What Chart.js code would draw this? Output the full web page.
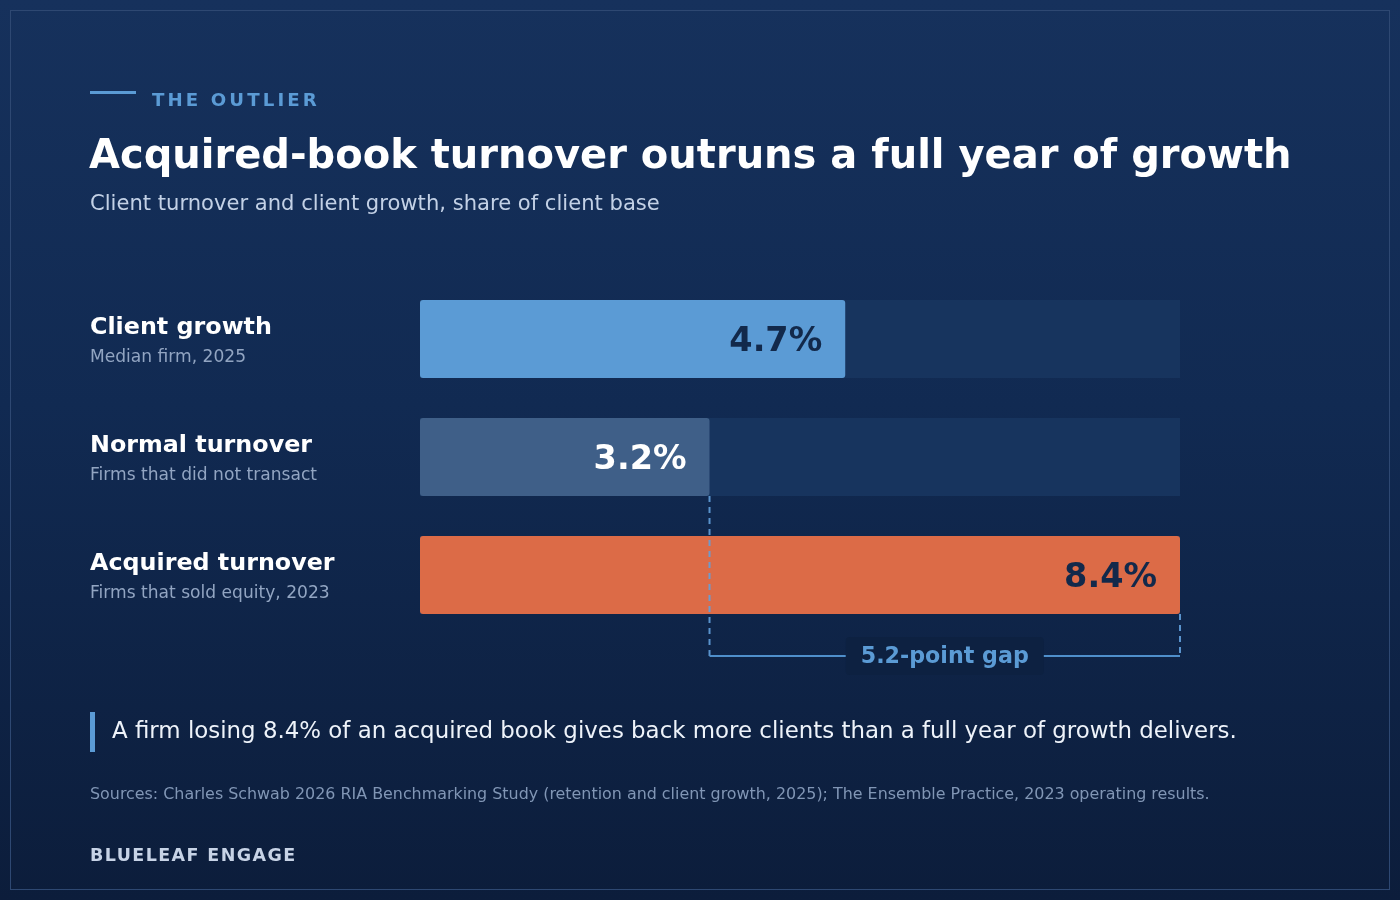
<!DOCTYPE html>
<html>
<head>
<meta charset="utf-8">
<script src="https://cdn.jsdelivr.net/npm/chart.js@4/dist/chart.umd.min.js"></script>
<style>
html,body{margin:0;padding:0;width:1400px;height:900px;overflow:hidden;font-family:"DejaVu Sans",sans-serif;}
body{background:linear-gradient(180deg,#16315c 0%,#112a52 45%,#0c1d3b 100%);position:relative;}
#frame{position:absolute;left:10px;top:10px;width:1378px;height:878px;border:1px solid #2e4872;}
#wrap{position:absolute;left:0;top:0;width:1400px;height:900px;}
.t{position:absolute;white-space:nowrap;}
#kline{position:absolute;left:90px;top:91px;width:46px;height:3px;background:#5b9bd5;}
#kicker{left:152px;top:89px;font-size:18.2px;font-weight:bold;letter-spacing:3.1px;color:#5b9bd5;}
#title{left:89px;top:131px;font-size:40px;font-weight:bold;color:#ffffff;}
#sub{left:90px;top:190px;font-size:21.1px;color:#c3d1e6;}
#qbar{position:absolute;left:90px;top:712px;width:5px;height:40px;background:#5b9bd5;}
#quote{left:112px;top:717px;font-size:22.9px;color:#eef3fa;}
#src{left:90px;top:784px;font-size:15.9px;color:#8196b5;}
#brand{left:90px;top:845px;font-size:17.5px;font-weight:bold;letter-spacing:1.4px;color:#c7d3e6;}
</style>
</head>
<body>
<div id="frame"></div>
<div id="wrap"><canvas id="c" width="1400" height="900"></canvas></div>
<div id="kline"></div>
<div class="t" id="kicker">THE OUTLIER</div>
<div class="t" id="title">Acquired-book turnover outruns a full year of growth</div>
<div class="t" id="sub">Client turnover and client growth, share of client base</div>
<div id="qbar"></div>
<div class="t" id="quote">A firm losing 8.4% of an acquired book gives back more clients than a full year of growth delivers.</div>
<div class="t" id="src">Sources: Charles Schwab 2026 RIA Benchmarking Study (retention and client growth, 2025); The Ensemble Practice, 2023 operating results.</div>
<div class="t" id="brand">BLUELEAF ENGAGE</div>
<script>
const categories = ["Client growth", "Normal turnover", "Acquired turnover"];
const subLabels = ["Median firm, 2025", "Firms that did not transact", "Firms that sold equity, 2023"];
const values = [4.7, 3.2, 8.4];
const valueLabels = ["4.7%", "3.2%", "8.4%"];
const axisMax = 8.4;
const trackValues = categories.map(() => axisMax);
const gapLabel = "5.2-point gap";

const barColors = ["#5b9bd5", "#3f5f88", "#dc6b47"];
const labelColors = ["#12294b", "#ffffff", "#12294b"];

const F = '"DejaVu Sans", sans-serif';

const annot = {
  id: 'annot',
  afterDatasetsDraw(chart) {
    const ctx = chart.ctx;
    const x = chart.scales.x, y = chart.scales.y;
    const meta = chart.getDatasetMeta(1);
    ctx.save();
    categories.forEach((c, i) => {
      const cy = y.getPixelForValue(i);
      ctx.textAlign = 'left';
      ctx.textBaseline = 'alphabetic';
      ctx.fillStyle = '#ffffff';
      ctx.font = 'bold 23.8px ' + F;
      ctx.fillText(c, 90, cy - 5);
      ctx.fillStyle = '#92a5c2';
      ctx.font = '17.1px ' + F;
      ctx.fillText(subLabels[i], 90, cy + 23);
      const bx = x.getPixelForValue(values[i]);
      ctx.textAlign = 'right';
      ctx.fillStyle = labelColors[i];
      ctx.font = 'bold 33.5px ' + F;
      ctx.fillText(valueLabels[i], bx - 23, cy + 12);
    });
    // gap bracket
    const x1 = x.getPixelForValue(values[1]);
    const x2 = x.getPixelForValue(values[2]);
    const b1 = meta.data[1], b2 = meta.data[2];
    const bottom1 = b1.y + b1.height / 2;
    const bottom2 = b2.y + b2.height / 2;
    const by = bottom2 + 42;
    ctx.strokeStyle = 'rgba(98,160,220,0.9)';
    ctx.lineWidth = 2;
    ctx.setLineDash([6, 5]);
    ctx.beginPath();
    ctx.moveTo(x1, bottom1); ctx.lineTo(x1, by);
    ctx.moveTo(x2, bottom2); ctx.lineTo(x2, by);
    ctx.stroke();
    ctx.setLineDash([]);
    ctx.strokeStyle = '#4f8fcb';
    ctx.lineWidth = 2;
    ctx.beginPath();
    ctx.moveTo(x1, by); ctx.lineTo(x2, by);
    ctx.stroke();
    ctx.font = 'bold 22.2px ' + F;
    const mid = (x1 + x2) / 2;
    const tw = ctx.measureText(gapLabel).width;
    const bw = tw + 30, bh = 38;
    ctx.fillStyle = '#0d2141';
    ctx.beginPath();
    ctx.roundRect(mid - bw / 2, by - bh / 2, bw, bh, 4);
    ctx.fill();
    ctx.fillStyle = '#5b9bd5';
    ctx.textAlign = 'center';
    ctx.textBaseline = 'middle';
    ctx.fillText(gapLabel, mid, by + 1);
    ctx.restore();
  }
};

new Chart(document.getElementById('c'), {
  type: 'bar',
  data: {
    labels: categories,
    datasets: [
      {
        data: trackValues,
        backgroundColor: '#17345e',
        borderWidth: 0,
        borderRadius: 0,
        borderSkipped: false,
        grouped: false,
        order: 2,
        barPercentage: 0.661,
        categoryPercentage: 1
      },
      {
        data: values,
        backgroundColor: barColors,
        borderWidth: 0,
        borderRadius: 3,
        borderSkipped: false,
        grouped: false,
        order: 1,
        barPercentage: 0.661,
        categoryPercentage: 1
      }
    ]
  },
  options: {
    indexAxis: 'y',
    responsive: false,
    animation: false,
    events: [],
    layout: { padding: { left: 420, right: 220, top: 280, bottom: 266 } },
    plugins: { legend: { display: false }, tooltip: { enabled: false } },
    scales: {
      x: { display: false, min: 0, max: axisMax },
      y: { display: false }
    }
  },
  plugins: [annot]
});
</script>
</body>
</html>
